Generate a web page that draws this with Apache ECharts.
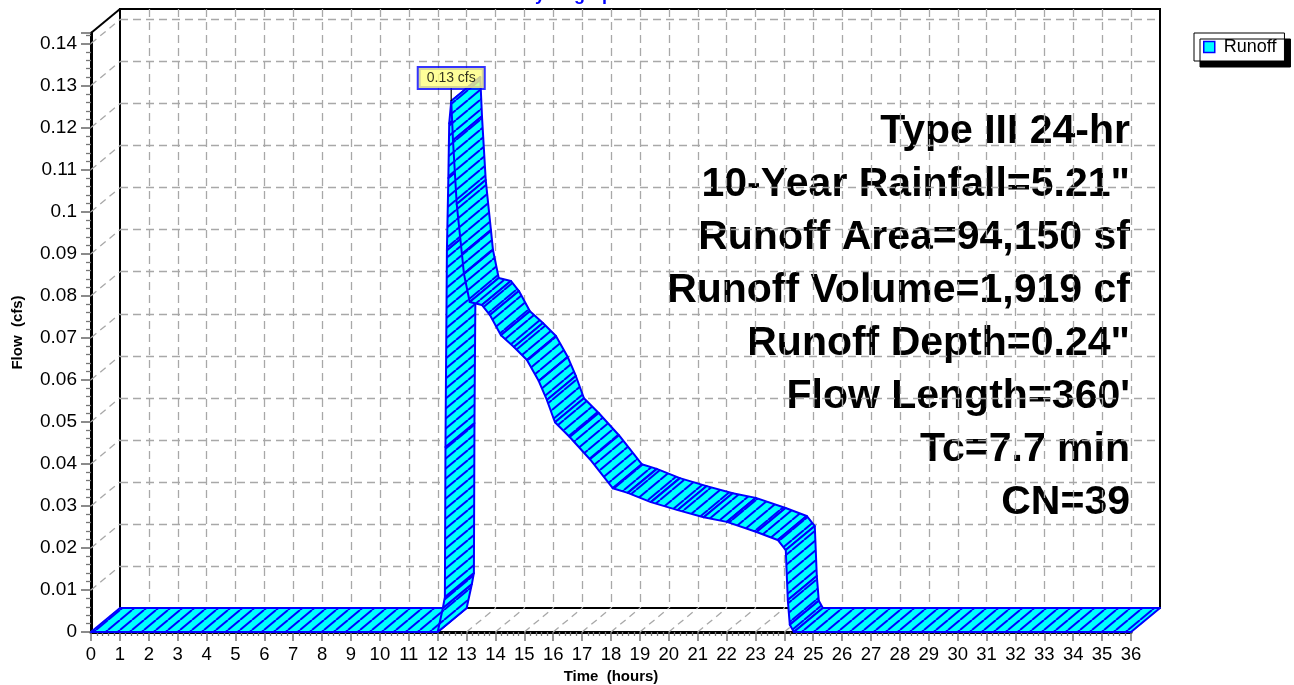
<!DOCTYPE html>
<html><head><meta charset="utf-8">
<script src="https://cdn.jsdelivr.net/npm/echarts@6/dist/echarts.min.js"></script>
<style>html,body{margin:0;padding:0;background:#fff}#c{width:1294px;height:685px}</style>
</head><body><div id="c"></div>
<script>
// ---- data ----
const seriesName = 'Runoff';
const times = [0, 12.0, 12.18, 12.25, 12.27, 12.32, 12.37, 12.40, 12.47, 12.53, 12.66, 12.84, 12.91, 13.11, 13.53, 13.81, 14.19, 14.64, 15.09, 15.50, 15.78, 16.06, 16.57, 17.27, 18.06, 18.58, 19.38, 20.31, 21.21, 22.01, 23.04, 23.77, 24.05, 24.12, 24.19, 24.33, 36];
const flows = [0, 0, 0.0057, 0.0083, 0.044, 0.0908, 0.108, 0.121, 0.1263, 0.117, 0.1018, 0.0899, 0.0852, 0.0785, 0.0778, 0.0754, 0.0706, 0.0678, 0.0647, 0.0597, 0.0552, 0.0499, 0.0464, 0.0411, 0.0342, 0.0331, 0.0309, 0.029, 0.0273, 0.0262, 0.0238, 0.0219, 0.0195, 0.0076, 0.0017, 0, 0];
const xTicks = [0,1,2,3,4,5,6,7,8,9,10,11,12,13,14,15,16,17,18,19,20,21,22,23,24,25,26,27,28,29,30,31,32,33,34,35,36];
const yTicks = [0,0.01,0.02,0.03,0.04,0.05,0.06,0.07,0.08,0.09,0.1,0.11,0.12,0.13,0.14];
const infoLines = ['Type III 24-hr', '10-Year Rainfall=5.21"', 'Runoff Area=94,150 sf', 'Runoff Volume=1,919 cf', 'Runoff Depth=0.24"', "Flow Length=360'", 'Tc=7.7 min', 'CN=39'];
const titleText = 'Hydrograph';
const X_MAX = 36, Y_MAX = 0.1425;

// ---- styling constants ----
const DX = 29, DY = -24;           // depth offset of the 3D back plane
const FONT = 'Liberation Sans, Arial, sans-serif';

const hatch = document.createElement('canvas');
hatch.width = 12; hatch.height = 10;
const hc = hatch.getContext('2d');
hc.fillStyle = '#00ffff'; hc.fillRect(0, 0, 12, 10);
hc.strokeStyle = '#0000ff'; hc.lineWidth = 2;
[-12, 0, 12].forEach(o => { hc.beginPath(); hc.moveTo(o, 10); hc.lineTo(o + 12, 0); hc.stroke(); });
const hatchFill = { image: hatch, repeat: 'repeat' };

const segments = times.slice(0, -1).map((t, i) => [t, flows[i], times[i + 1], flows[i + 1]]);
const guides = xTicks.map(t => [t, 0, 0]).concat(yTicks.slice(1).map(v => [0, v, 0])).concat([[0, Y_MAX, 1]]);
let peakIdx = 0; flows.forEach((v, i) => { if (v > flows[peakIdx]) peakIdx = i; });

const chart = echarts.init(document.getElementById('c'));
const gridLine = { show: true, showMinLine: false, showMaxLine: false, lineStyle: { color: '#a8a8a8', width: 1.3, type: [8, 5] } };

chart.setOption({
  animation: false,
  backgroundColor: '#fff',
  grid: [
    { left: 91, top: 33, right: 163, bottom: 53, show: false, containLabel: false, outerBoundsMode: 'none' },
    { left: 91 + DX, top: 33 + DY, right: 163 - DX, bottom: 53 - DY, show: true, borderColor: '#000', borderWidth: 2, backgroundColor: 'transparent', containLabel: false, outerBoundsMode: 'none' }
  ],
  xAxis: [
    { type: 'value', gridIndex: 0, min: 0, max: X_MAX, interval: 1,
      name: 'Time  (hours)', nameLocation: 'middle', nameGap: 37,
      nameTextStyle: { fontFamily: FONT, fontWeight: 'bold', fontSize: 15, color: '#000' },
      axisLine: { show: true, onZero: false, lineStyle: { color: '#000', width: 3 } },
      axisTick: { show: true, length: 9, lineStyle: { color: '#777', width: 1.5 } },
      minorTick: { show: true, splitNumber: 5, length: 4, lineStyle: { color: '#777', width: 1.3 } },
      axisLabel: { fontFamily: FONT, fontSize: 18.5, color: '#000', margin: 13 },
      splitLine: { show: false } },
    { type: 'value', gridIndex: 1, min: 0, max: X_MAX, interval: 1,
      axisLine: { show: false }, axisTick: { show: false }, axisLabel: { show: false }, splitLine: gridLine }
  ],
  yAxis: [
    { type: 'value', gridIndex: 0, min: 0, max: Y_MAX, interval: 0.01,
      name: 'Flow  (cfs)', nameLocation: 'middle', nameGap: 66, nameRotate: 90,
      nameTextStyle: { fontFamily: FONT, fontWeight: 'bold', fontSize: 15, color: '#000' },
      axisLine: { show: true, onZero: false, lineStyle: { color: '#000', width: 3 } },
      axisTick: { show: true, length: 10, lineStyle: { color: '#666', width: 1.5 } },
      minorTick: { show: true, splitNumber: 5, length: 5, lineStyle: { color: '#777', width: 1.3 } },
      axisLabel: { fontFamily: FONT, fontSize: 19, color: '#000', margin: 14, showMaxLabel: false },
      splitLine: { show: false } },
    { type: 'value', gridIndex: 1, min: 0, max: Y_MAX, interval: 0.01,
      axisLine: { show: false }, axisTick: { show: false }, axisLabel: { show: false }, splitLine: gridLine }
  ],
  legend: {
    left: 1194, top: 33, orient: 'horizontal',
    data: [{ name: seriesName, icon: 'rect', itemStyle: { color: '#00ffff', borderColor: '#0000ff', borderWidth: 1.5 } }],
    itemWidth: 11, itemHeight: 11,
    padding: [5, 8, 5, 9],
    backgroundColor: '#fff', borderColor: '#000', borderWidth: 1,
    shadowColor: '#000', shadowBlur: 0, shadowOffsetX: 6, shadowOffsetY: 6,
    textStyle: { fontFamily: FONT, fontSize: 18, color: '#000', padding: [0, 0, 0, 4] },
    selectedMode: false
  },
  graphic: [
    { type: 'text', silent: true, style: { text: titleText, x: 573, y: 4, textAlign: 'center', textVerticalAlign: 'bottom', font: 'bold 18px ' + FONT, fill: '#0000ff' } }
  ].concat(infoLines.map((s, i) => ({
    type: 'text', silent: true,
    style: { text: s, x: 1130, y: 132 + i * 53, textAlign: 'right', textVerticalAlign: 'middle', font: 'bold 41px ' + FONT, fill: '#000' }
  }))),
  series: [
    { type: 'custom', name: 'guides', xAxisIndex: 0, yAxisIndex: 0, z: 1, silent: true,
      data: guides, encode: { x: 0, y: 1 },
      renderItem: (params, api) => {
        const p = api.coord([api.value(0), api.value(1)]);
        const black = api.value(2) === 1;
        return { type: 'line', shape: { x1: p[0], y1: p[1], x2: p[0] + DX, y2: p[1] + DY },
          style: black ? { stroke: '#000', lineWidth: 2 } : { stroke: '#a8a8a8', lineWidth: 1.3, lineDash: [7, 5] } };
      } },
    { type: 'custom', name: seriesName, xAxisIndex: 0, yAxisIndex: 0, z: 3, silent: true,
      itemStyle: { color: '#00ffff', borderColor: '#0000ff' },
      data: segments, encode: { x: [0, 2], y: [1, 3] },
      renderItem: (params, api) => {
        const a = api.coord([api.value(0), api.value(1)]);
        const b = api.coord([api.value(2), api.value(3)]);
        return { type: 'polygon',
          shape: { points: [a, b, [b[0] + DX, b[1] + DY], [a[0] + DX, a[1] + DY]] },
          style: { fill: hatchFill, stroke: '#0000ff', lineWidth: 2, lineJoin: 'round' } };
      } },
    { type: 'scatter', name: 'peak', xAxisIndex: 0, yAxisIndex: 0, z: 6, silent: true,
      data: [[times[peakIdx], flows[peakIdx]]],
      symbol: 'rect', symbolSize: [1.5, 13], symbolOffset: [0, -6.5],
      itemStyle: { color: '#000' },
      label: { show: true, position: 'top', distance: 0,
        formatter: p => p.value[1].toFixed(2) + ' cfs',
        fontFamily: FONT, fontSize: 14, color: '#000', lineHeight: 14,
        backgroundColor: '#ffff80', borderColor: '#0000ff', borderWidth: 2, padding: [3, 8, 3, 8] } }
  ]
});
</script>
</body></html>
